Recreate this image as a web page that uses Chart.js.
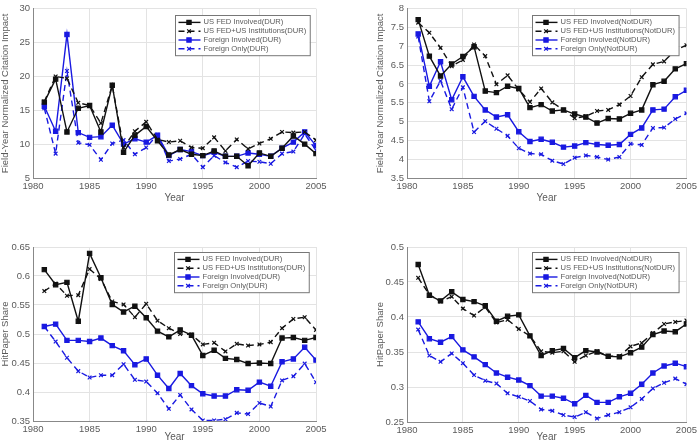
<!DOCTYPE html>
<html><head><meta charset="utf-8">
<script src="https://cdn.jsdelivr.net/npm/chart.js@4.4.1/dist/chart.umd.min.js"></script>
<style>
html,body{margin:0;padding:0;background:#fff;width:700px;height:443px;overflow:hidden;position:relative}
.p{position:absolute}
</style></head><body>
<div class="p" style="left:0;top:0;width:350px;height:220px"><canvas id="c1"></canvas></div>
<div class="p" style="left:375px;top:0;width:325px;height:220px"><canvas id="c2"></canvas></div>
<div class="p" style="left:0;top:220px;width:350px;height:223px"><canvas id="c3"></canvas></div>
<div class="p" style="left:375px;top:220px;width:325px;height:223px"><canvas id="c4"></canvas></div>
<script>
const years = [1981,1982,1983,1984,1985,1986,1987,1988,1989,1990,1991,1992,1993,1994,1995,1996,1997,1998,1999,2000,2001,2002,2003,2004,2005];

// Top-left: Field-Year Normalized Citation Impact (DUR)
const fedInvDUR   = [16.2,19.6,11.8,15.3,15.7,11.8,18.7,8.8,11.3,12.6,10.5,8.4,9.2,8.5,8.3,9.0,8.2,8.2,6.8,8.7,8.2,9.4,11.2,10.0,8.6];
const fedInstDUR  = [16.3,20.0,19.7,16.1,15.7,13.1,18.7,9.5,11.9,13.3,10.7,10.3,10.5,9.5,9.4,11.0,9.0,10.7,9.3,10.1,10.8,11.8,11.7,11.8,10.6];
const forInvDUR   = [15.6,11.9,26.2,11.7,11.0,11.1,12.8,10.0,10.8,10.3,11.3,8.3,9.2,8.9,8.3,8.8,8.2,8.2,8.7,8.5,8.2,9.4,10.3,11.8,9.8];
const forOnlyDUR  = [15.3,8.6,20.8,10.2,9.9,7.7,10.1,10.6,8.5,9.5,11.4,7.5,7.8,8.5,6.6,8.3,7.3,6.6,7.5,7.4,7.1,8.6,8.9,11.5,9.1];

// Top-right: Field-Year Normalized Citation Impact (NotDUR)
const fedInvND    = [7.71,6.74,6.21,6.53,6.73,6.99,5.81,5.77,5.94,5.88,5.37,5.45,5.28,5.31,5.20,5.12,4.96,5.08,5.07,5.22,5.31,5.98,6.07,6.40,6.54];
const fedInstND   = [7.63,7.36,6.96,6.47,6.64,7.05,6.74,5.99,6.23,5.85,5.52,5.88,5.51,5.31,5.09,5.14,5.28,5.31,5.45,5.68,6.18,6.52,6.60,6.90,7.03];
const forInvND    = [7.33,5.94,6.59,5.58,6.19,5.67,5.31,5.12,5.18,4.73,4.47,4.53,4.45,4.32,4.35,4.44,4.39,4.37,4.39,4.66,4.83,5.31,5.33,5.66,5.83];
const forOnlyND   = [7.26,5.54,6.08,5.33,5.91,4.72,5.01,4.81,4.62,4.29,4.15,4.13,3.96,3.87,4.04,4.10,4.06,3.99,4.06,4.41,4.38,4.83,4.84,5.07,5.22];

// Bottom-left: HitPaper Share (DUR)
const hpFedInvDUR  = [0.611,0.585,0.589,0.522,0.639,0.597,0.551,0.538,0.548,0.528,0.505,0.495,0.507,0.498,0.463,0.472,0.458,0.456,0.449,0.450,0.449,0.493,0.494,0.489,0.494];
const hpFedInstDUR = [0.574,0.587,0.566,0.567,0.612,0.595,0.556,0.551,0.529,0.552,0.523,0.510,0.500,0.499,0.482,0.485,0.470,0.483,0.480,0.482,0.486,0.510,0.526,0.529,0.507];
const hpForInvDUR  = [0.513,0.517,0.489,0.489,0.487,0.493,0.480,0.471,0.447,0.457,0.429,0.406,0.432,0.411,0.397,0.393,0.393,0.404,0.403,0.417,0.410,0.452,0.457,0.477,0.455];
const hpForOnlyDUR = [0.513,0.487,0.459,0.436,0.425,0.429,0.429,0.448,0.421,0.418,0.398,0.371,0.395,0.370,0.351,0.351,0.353,0.364,0.362,0.381,0.375,0.420,0.427,0.449,0.417];

// Bottom-right: HitPaper Share (NotDUR)
const hpFedInvND  = [0.475,0.431,0.423,0.436,0.425,0.422,0.416,0.394,0.401,0.403,0.373,0.345,0.352,0.355,0.342,0.352,0.350,0.344,0.343,0.349,0.357,0.375,0.380,0.379,0.390];
const hpFedInstND = [0.456,0.432,0.422,0.429,0.412,0.402,0.414,0.392,0.396,0.383,0.373,0.351,0.349,0.351,0.336,0.345,0.351,0.344,0.344,0.358,0.363,0.377,0.390,0.393,0.395];
const hpForInvND  = [0.393,0.369,0.364,0.372,0.353,0.343,0.332,0.320,0.314,0.310,0.302,0.287,0.287,0.284,0.276,0.288,0.278,0.278,0.286,0.291,0.304,0.320,0.330,0.334,0.329];
const hpForOnlyND = [0.382,0.345,0.336,0.348,0.334,0.317,0.309,0.305,0.291,0.286,0.280,0.268,0.266,0.260,0.257,0.264,0.255,0.260,0.264,0.271,0.283,0.298,0.306,0.312,0.304];

const labelsDUR = ['US FED Involved(DUR)','US FED+US Institutions(DUR)','Foreign Involved(DUR)','Foreign Only(DUR)'];
const labelsND  = ['US FED Involved(NotDUR)','US FED+US Institutions(NotDUR)','Foreign Involved(NotDUR)','Foreign Only(NotDUR)'];
const xTicks = [1980,1985,1990,1995,2000,2005];

const BLK = '#111', BLU = 'rgb(25,25,225)', TXT = '#5a5a5a', GRID = '#e3e3e3', AX = '#888';
const FONT = "'Liberation Sans', Arial, sans-serif";

function mkSets(labels, arrs){
  const styles = [
    {c:BLK, dash:[], ps:'rect', pr:3},
    {c:BLK, dash:[6,4], ps:'crossRot', pr:2.6},
    {c:BLU, dash:[], ps:'rect', pr:3},
    {c:BLU, dash:[6,4], ps:'crossRot', pr:2.6}
  ];
  return arrs.map((a,i)=>({
    label: labels[i],
    data: years.map((y,k)=>({x:y, y:a[k]})),
    borderColor: styles[i].c, backgroundColor: styles[i].c,
    borderDash: styles[i].dash, borderWidth: 1.4,
    pointStyle: styles[i].ps, pointRadius: styles[i].pr,
    pointBorderWidth: 1.2, pointBorderColor: styles[i].c, pointBackgroundColor: styles[i].c,
    tension: 0
  }));
}

const boxLegend = {
  id:'boxLegend',
  afterDraw(chart, args, opts){
    const ctx = chart.ctx, ca = chart.chartArea;
    const sets = chart.data.datasets;
    ctx.save();
    ctx.font = "7.6px " + FONT;
    let tw = 0;
    sets.forEach(s=>{ tw = Math.max(tw, ctx.measureText(s.label).width); });
    const sample = 23, rowH = 8.8, pad = 2.5;
    const w = pad + sample + 3 + tw + pad + 1;
    const h = rowH*sets.length + 2*pad;
    const x = Math.round(ca.right - opts.dx - w), y = Math.round(ca.top + opts.dy);
    ctx.fillStyle = '#fff';
    ctx.fillRect(x, y, w, h);
    ctx.strokeStyle = '#777'; ctx.lineWidth = 1;
    ctx.strokeRect(x+0.5, y+0.5, w, h);
    sets.forEach((s,i)=>{
      const cy = y + pad + rowH*i + rowH/2 + 0.5;
      ctx.strokeStyle = s.borderColor; ctx.lineWidth = 1.4;
      ctx.setLineDash(s.borderDash);
      ctx.beginPath(); ctx.moveTo(x+pad+1, cy); ctx.lineTo(x+pad+sample, cy); ctx.stroke();
      ctx.setLineDash([]);
      ctx.fillStyle = s.borderColor; ctx.strokeStyle = s.borderColor; ctx.lineWidth = 1.2;
      Chart.helpers.drawPoint(ctx, {pointStyle:s.pointStyle, radius:s.pointRadius, borderWidth:1.2}, x+pad+sample/2, cy);
      ctx.fillStyle = TXT; ctx.textBaseline = 'middle'; ctx.textAlign = 'left';
      ctx.fillText(s.label, x+pad+sample+3, cy);
    });
    ctx.restore();
  }
};

const fmt = v => String(Math.round(v*1000)/1000);

function mk(id, sets, yMin, yMax, yStep, yTitle, yW, xH, padTop, padRight, padBottom, legDx, legDy){
  new Chart(document.getElementById(id), {
    type:'line',
    data:{datasets:sets},
    plugins:[boxLegend],
    options:{
      responsive:true, maintainAspectRatio:false, animation:false,
      layout:{padding:{top:padTop, right:padRight, left:0, bottom:padBottom}},
      plugins:{legend:{display:false}, tooltip:{enabled:false}, boxLegend:{dx:legDx, dy:legDy}},
      scales:{
        x:{type:'linear', min:1980, max:2005,
          afterBuildTicks(s){ s.ticks = xTicks.map(v=>({value:v})); },
          afterFit(s){ s.height = xH; },
          grid:{color:GRID, drawTicks:false},
          border:{color:AX},
          ticks:{color:TXT, font:{size:9.5, family:FONT}, padding:3, maxRotation:0, callback:v=>String(v)},
          title:{display:true, text:'Year', color:TXT, font:{size:10, family:FONT}, padding:{top:0,bottom:0}}
        },
        y:{min:yMin, max:yMax,
          ticks:{stepSize:yStep, color:TXT, font:{size:9.5, family:FONT}, padding:3, callback:fmt},
          afterFit(s){ s.width = yW; },
          grid:{color:GRID, drawTicks:false},
          border:{color:AX},
          title:{display:true, text:yTitle, color:TXT, font:{size:9.5, family:FONT}, padding:{top:0,bottom:1}}
        }
      }
    }
  });
}

mk('c1', mkSets(labelsDUR,[fedInvDUR,fedInstDUR,forInvDUR,forOnlyDUR]), 5, 30, 5,
   'Field-Year Normalized Citation Impact', 33, 26, 4, 34, 16, 6, 6);
mk('c2', mkSets(labelsND,[fedInvND,fedInstND,forInvND,forOnlyND]), 3.5, 8, 0.5,
   'Field-Year Normalized Citation Impact', 32, 26, 4, 9, 16, 8, 6);
mk('c3', mkSets(labelsDUR,[hpFedInvDUR,hpFedInstDUR,hpForInvDUR,hpForOnlyDUR]), 0.35, 0.65, 0.05,
   'HitPaper Share', 33, 22, 27, 34, 0, 7, 5);
mk('c4', mkSets(labelsND,[hpFedInvND,hpFedInstND,hpForInvND,hpForOnlyND]), 0.25, 0.5, 0.05,
   'HitPaper Share', 32, 21, 27, 9, 0, 8, 5);
</script>
</body></html>
